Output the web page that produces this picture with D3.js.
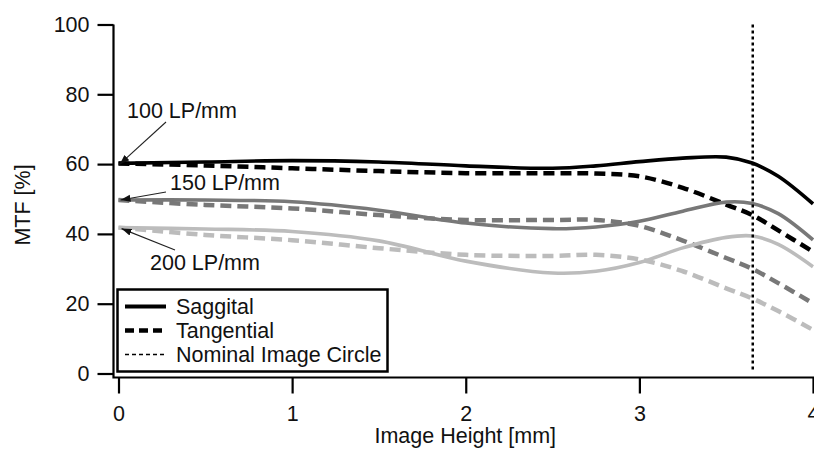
<!DOCTYPE html>
<html>
<head>
<meta charset="utf-8">
<script src="https://cdn.jsdelivr.net/npm/d3@7"></script>
<style>
  html, body { margin: 0; padding: 0; background: #fff; }
  svg { display: block; font-family: "Liberation Sans", Arial, sans-serif; }
</style>
</head>
<body>
<svg id="chart" width="814" height="454"></svg>
<script>
// image height positions (mm)
const heights = [0, 0.5, 1, 1.5, 2, 2.5, 2.75, 3, 3.25, 3.5, 3.65, 3.8, 4];

// MTF values (%)
const sag100 = [60.2, 60.6, 61.0, 60.6, 59.5, 58.8, 59.5, 60.7, 61.7, 62.0, 60.3, 56.5, 48.6];
const tan100 = [60.2, 59.6, 58.8, 58.0, 57.4, 57.4, 57.3, 56.5, 53.2, 48.4, 45.4, 41.0, 34.9];
const sag150 = [49.7, 49.7, 49.2, 46.8, 43.1, 41.5, 42.0, 43.6, 46.5, 49.1, 48.7, 45.8, 38.3];
const tan150 = [49.7, 48.3, 47.3, 45.4, 44.0, 44.0, 44.0, 42.3, 38.1, 33.1, 30.0, 25.9, 20.1];
const sag200 = [41.8, 41.4, 40.7, 38.0, 32.2, 28.8, 29.3, 31.8, 36.0, 39.0, 39.4, 37.0, 30.6];
const tan200 = [41.8, 39.7, 38.2, 35.9, 34.0, 33.7, 34.0, 32.7, 29.3, 24.4, 21.5, 17.9, 12.5];

const imageCircle = 3.653;

const xTicks = [0, 1, 2, 3, 4];
const yTicks = [0, 20, 40, 60, 80, 100];

const freqLabels = ['100 LP/mm', '150 LP/mm', '200 LP/mm'];
const legendLabels = ['Saggital', 'Tangential', 'Nominal Image Circle'];

const series = [
  { values: sag100, color: '#000000', dashed: false },
  { values: tan100, color: '#000000', dashed: true },
  { values: sag150, color: '#787878', dashed: false },
  { values: tan150, color: '#787878', dashed: true },
  { values: sag200, color: '#bcbcbc', dashed: false },
  { values: tan200, color: '#bcbcbc', dashed: true }
];

const svg = d3.select('#chart');
const font = '21.5px';
const ink = '#111';

const x = d3.scaleLinear().domain([0, 4]).range([118.5, 813]);
const y = d3.scaleLinear().domain([0, 100]).range([373.5, 24.5]);

const axisX = 113.5;
const axisY = 377.5;

// y axis
const gy = svg.append('g').attr('transform', `translate(${axisX},0)`)
  .call(d3.axisLeft(y).tickValues(yTicks).tickSize(16).tickPadding(8));
gy.select('.domain').remove();
gy.selectAll('.tick line').attr('stroke', '#000').attr('stroke-width', 2.2);
gy.selectAll('.tick text').attr('font-size', font).attr('fill', ink)
  .attr('font-family', '"Liberation Sans", Arial, sans-serif');

// x axis
const gx = svg.append('g').attr('transform', `translate(0,${axisY})`)
  .call(d3.axisBottom(x).tickValues(xTicks).tickFormat(d3.format('d')).tickSize(16).tickPadding(12));
gx.select('.domain').remove();
gx.selectAll('.tick line').attr('stroke', '#000').attr('stroke-width', 2.2);
gx.selectAll('.tick text').attr('font-size', font).attr('fill', ink)
  .attr('font-family', '"Liberation Sans", Arial, sans-serif');

// axis lines
svg.append('path')
  .attr('d', `M${axisX},${y(100)}V${axisY}H${x(4) + 2}`)
  .attr('fill', 'none').attr('stroke', '#000').attr('stroke-width', 2.2);

// axis titles
svg.append('text')
  .attr('x', (x(0) + x(4)) / 2 - 0.5).attr('y', 442.5)
  .attr('text-anchor', 'middle').attr('font-size', font).attr('fill', ink)
  .text('Image Height [mm]');
svg.append('text')
  .attr('transform', 'translate(30,205) rotate(-90)')
  .attr('text-anchor', 'middle').attr('font-size', font).attr('fill', ink)
  .text('MTF [%]');

// curves
const line = d3.line()
  .x((d, i) => x(heights[i]))
  .y(d => y(d))
  .curve(d3.curveCatmullRom.alpha(0.5));

svg.append('g').selectAll('path')
  .data(series)
  .join('path')
  .attr('d', d => line(d.values))
  .attr('fill', 'none')
  .attr('stroke', d => d.color)
  .attr('stroke-width', d => (d.dashed ? 4.5 : 3.6))
  .attr('stroke-dasharray', d => (d.dashed ? '11,6' : null));

// nominal image circle
svg.append('line')
  .attr('x1', x(imageCircle)).attr('x2', x(imageCircle))
  .attr('y1', y(100)).attr('y2', y(0) - 1)
  .attr('stroke', '#000').attr('stroke-width', 2.5).attr('stroke-dasharray', '3,3');

// annotations
svg.append('defs').append('marker')
  .attr('id', 'arrow')
  .attr('viewBox', '0 0 10 10')
  .attr('refX', 10).attr('refY', 5)
  .attr('markerWidth', 10).attr('markerHeight', 10)
  .attr('markerUnits', 'userSpaceOnUse')
  .attr('orient', 'auto')
  .append('path').attr('d', 'M0,1.5L10,5L0,8.5Z').attr('fill', ink);

const notes = [
  { label: freqLabels[0], tx: 127, ty: 118, from: [166, 122], to: [x(0) + 1, y(sag100[0]) + 1] },
  { label: freqLabels[1], tx: 170, ty: 190, from: [166, 192], to: [x(0) + 2, y(sag150[0])] },
  { label: freqLabels[2], tx: 150, ty: 270, from: [175, 250], to: [x(0) + 3, y(sag200[0]) + 1] }
];

notes.forEach(n => {
  svg.append('line')
    .attr('x1', n.from[0]).attr('y1', n.from[1])
    .attr('x2', n.to[0]).attr('y2', n.to[1])
    .attr('stroke', '#222').attr('stroke-width', 1.1)
    .attr('marker-end', 'url(#arrow)');
  svg.append('text')
    .attr('x', n.tx).attr('y', n.ty)
    .attr('font-size', font).attr('fill', ink)
    .text(n.label);
});

// legend
const legend = svg.append('g');
legend.append('rect')
  .attr('x', 117.5).attr('y', 289.5).attr('width', 270).attr('height', 82)
  .attr('fill', '#fff').attr('stroke', '#000').attr('stroke-width', 2.5);

const legendStyles = [
  { width: 4, dash: null },
  { width: 4.5, dash: '9,5' },
  { width: 1.6, dash: '4,3' }
];

legendLabels.forEach((label, i) => {
  const ly = 306.5 + i * 24;
  legend.append('line')
    .attr('x1', 125).attr('x2', 166).attr('y1', ly).attr('y2', ly)
    .attr('stroke', '#000')
    .attr('stroke-width', legendStyles[i].width)
    .attr('stroke-dasharray', legendStyles[i].dash);
  legend.append('text')
    .attr('x', 176).attr('y', ly + 7.5)
    .attr('font-size', font).attr('fill', ink)
    .text(label);
});
</script>
</body>
</html>
